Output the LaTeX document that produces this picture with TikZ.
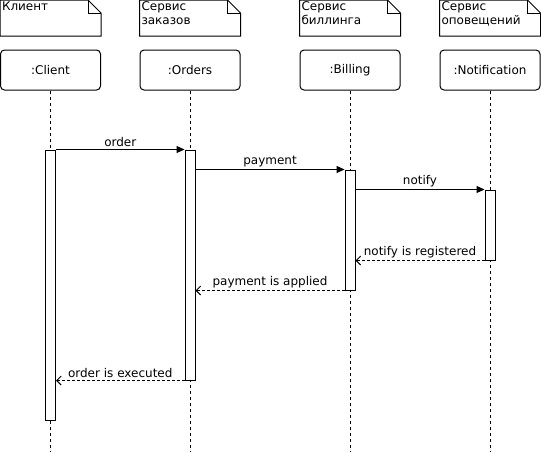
\documentclass[tikz,border=0pt]{standalone}
\usepackage{fontspec}
\setmainfont{DejaVu Sans}
\usetikzlibrary{arrows.meta}
\tikzset{
  notebox/.style={minimum width=100pt,minimum height=35pt,inner sep=0pt},
  notetext/.style={anchor=north west,align=left,inner sep=1.5pt,font=\fontsize{12}{14}\selectfont},
  headbox/.style={draw,rounded corners=4pt,minimum width=100pt,minimum height=40pt,inner sep=0pt,font=\fontsize{12}{14}\selectfont},
  actbox/.style={draw,fill=white,minimum width=10pt,inner sep=0pt},
  lifeline/.style={dash pattern=on 3pt off 3pt},
  callmsg/.style={-{Triangle[length=8pt,width=7pt]}},
  replymsg/.style={dashed,dash pattern=on 3pt off 2pt,-{Straight Barb[length=4.5pt,width=9pt]}},
  msglabel/.style={midway,above,inner sep=2.5pt,font=\fontsize{12}{14}\selectfont}
}
\begin{document}
\begin{tikzpicture}[x=1pt,y=-1pt,line width=1pt]
\useasboundingbox (0,0) rectangle (541,451);
\node[notebox] (nclient) at (50.5,18) {};
\node[notebox] (norders) at (190,18) {};
\node[notebox] (nbilling) at (350,18) {};
\node[notebox] (nnotif) at (490,18) {};
\foreach \n in {nclient,norders,nbilling,nnotif} {
  \draw (\n.south west) -- (\n.north west) -- ([xshift=-13pt]\n.north east) -- ([yshift=-13pt]\n.north east) -- (\n.south east) -- cycle;
  \draw ([xshift=-13pt]\n.north east) |- ([yshift=-13pt]\n.north east);
}
\node[notetext] at (nclient.north west) {Клиент};
\node[notetext] at (norders.north west) {Сервис\\заказов};
\node[notetext] at (nbilling.north west) {Сервис\\биллинга};
\node[notetext] at (nnotif.north west) {Сервис\\оповещений};
\node[headbox] (lclient) at (50.5,70) {:Client};
\node[headbox] (lorders) at (190,70) {:Orders};
\node[headbox] (lbilling) at (350,70) {:Billing};
\node[headbox] (lnotif) at (490,70) {:Notification};
\coordinate (eclient) at (50.5,451);
\coordinate (eorders) at (190,451);
\coordinate (ebilling) at (350,451);
\coordinate (enotif) at (490,451);
\draw[lifeline] (lclient) -- (eclient);
\draw[lifeline] (lorders) -- (eorders);
\draw[lifeline] (lbilling) -- (ebilling);
\draw[lifeline] (lnotif) -- (enotif);
\node[actbox,minimum height=270pt] (aclient) at (50.5,285) {};
\node[actbox,minimum height=230pt] (aorders) at (190,265) {};
\node[actbox,minimum height=120pt] (abilling) at (350,230) {};
\node[actbox,minimum height=70pt] (anotif) at (490,225) {};
\draw[callmsg] (aclient.north east) -- (aorders.north west) node[msglabel] {order};
\draw[callmsg] (aorders.east |- abilling.north) -- (abilling.north west) node[msglabel] {payment};
\draw[callmsg] (abilling.east |- anotif.north) -- (anotif.north west) node[msglabel] {notify};
\draw[replymsg] (anotif.south west) -- (abilling.east |- anotif.south) node[msglabel] {notify is registered};
\draw[replymsg] (abilling.south west) -- (aorders.east |- abilling.south) node[msglabel] {payment is applied};
\draw[replymsg] (aorders.south west) -- (aclient.east |- aorders.south) node[msglabel] {order is executed};
\end{tikzpicture}
\end{document}
